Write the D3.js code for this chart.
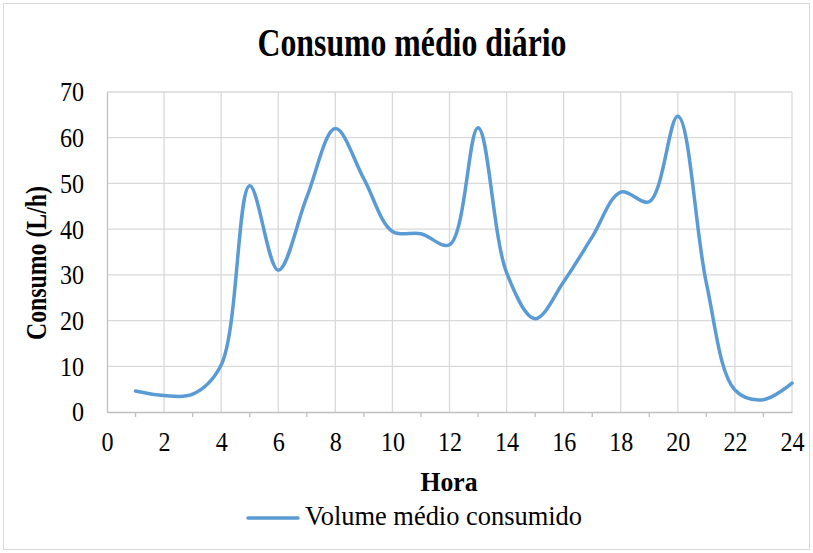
<!DOCTYPE html>
<html>
<head>
<meta charset="utf-8">
<script src="https://cdn.jsdelivr.net/npm/d3@7"></script>
<style>
  body { margin: 0; background: #fff; }
  text { font-family: "Liberation Serif", "Times New Roman", serif; fill: #000; }
</style>
</head>
<body>
<div id="chart"></div>
<script>
let hours = [1,2,3,4,5,6,7,8,9,10,11,12,13,14,15,16,17,18,19,20,21,22,23,24];
let consumo = [4.6,3.6,3.9,10.3,49.5,31,47,62,51,39.5,39,36.6,62.2,30.5,20.4,28.5,38.3,48.1,46,64.7,28.2,4.8,2.7,6.3];
let xTicks = [0,2,4,6,8,10,12,14,16,18,20,22,24];
let yTicks = [0,10,20,30,40,50,60,70];

let width = 813, height = 553;
let plot = { left: 107, right: 792, top: 92, bottom: 412 };

let svg = d3.select("#chart")
    .append("svg")
    .attr("width", width)
    .attr("height", height);

svg.append("rect")
    .attr("x", 3.5).attr("y", 3.5)
    .attr("width", width - 7).attr("height", height - 7)
    .attr("fill", "#fff")
    .attr("stroke", "#d9d9d9");

// squeeze text along its baseline, the original font runs narrow
function squeeze(sel, k) {
  sel.each(function() {
    let len = this.getComputedTextLength();
    d3.select(this)
      .attr("textLength", len * k)
      .attr("lengthAdjust", "spacingAndGlyphs");
  });
}

let x = d3.scaleLinear().domain([0, 24]).range([plot.left, plot.right]);
let y = d3.scaleLinear().domain([0, 70]).range([plot.bottom, plot.top]);

// gridlines
svg.append("g").selectAll("line").data(yTicks.filter(d => d > 0))
    .enter().append("line")
    .attr("x1", plot.left).attr("x2", plot.right)
    .attr("y1", d => y(d)).attr("y2", d => y(d))
    .attr("stroke", "#d9d9d9").attr("stroke-width", 1.3);

svg.append("g").selectAll("line").data(xTicks.filter(d => d > 0))
    .enter().append("line")
    .attr("x1", d => x(d)).attr("x2", d => x(d))
    .attr("y1", plot.top).attr("y2", plot.bottom)
    .attr("stroke", "#d9d9d9").attr("stroke-width", 1.3);

// axes
let xAxis = svg.append("g")
    .attr("transform", `translate(0,${plot.bottom})`)
    .call(d3.axisBottom(x).tickValues(xTicks).tickSize(0).tickPadding(22));
xAxis.select(".domain").attr("stroke", "#bfbfbf").attr("stroke-width", 1.3);
xAxis.selectAll("text").style("font-size", "28px").attr("fill", "#000")
    .attr("dy", "0.6em").call(squeeze, 0.86);

svg.append("g").selectAll("line").data(d3.range(1, 24, 2))
    .enter().append("line")
    .attr("x1", d => x(d)).attr("x2", d => x(d))
    .attr("y1", plot.bottom).attr("y2", plot.bottom + 5)
    .attr("stroke", "#bfbfbf").attr("stroke-width", 1.3);

let yAxis = svg.append("g")
    .attr("transform", `translate(${plot.left},0)`)
    .call(d3.axisLeft(y).tickValues(yTicks).tickSize(0).tickPadding(23));
yAxis.select(".domain").attr("stroke", "#bfbfbf").attr("stroke-width", 1.3);
yAxis.selectAll("text").style("font-size", "28px").attr("fill", "#000")
    .call(squeeze, 0.86);

// line
let line = d3.line()
    .x((d, i) => x(hours[i]))
    .y(d => y(d))
    .curve(d3.curveCatmullRom.alpha(0.5));

svg.append("path")
    .datum(consumo)
    .attr("d", line)
    .attr("fill", "none")
    .attr("stroke", "#5b9bd5")
    .attr("stroke-width", 3.5)
    .attr("stroke-linecap", "round");

// titles
svg.append("text")
    .attr("x", 412).attr("y", 56)
    .attr("text-anchor", "middle")
    .style("font-size", "39px").style("font-weight", 700)
    .text("Consumo médio diário")
    .attr("textLength", 309).attr("lengthAdjust", "spacingAndGlyphs");

svg.append("text")
    .attr("x", 449).attr("y", 491)
    .attr("text-anchor", "middle")
    .style("font-size", "28px").style("font-weight", 700)
    .text("Hora")
    .attr("textLength", 57).attr("lengthAdjust", "spacingAndGlyphs");

svg.append("text")
    .attr("transform", "translate(46,263) rotate(-90)")
    .attr("text-anchor", "middle")
    .style("font-size", "30px").style("font-weight", 700)
    .text("Consumo (L/h)")
    .attr("textLength", 154).attr("lengthAdjust", "spacingAndGlyphs");

// legend
svg.append("line")
    .attr("x1", 248).attr("x2", 298)
    .attr("y1", 518).attr("y2", 518)
    .attr("stroke", "#5b9bd5").attr("stroke-width", 3.5)
    .attr("stroke-linecap", "round");

svg.append("text")
    .attr("x", 305).attr("y", 525)
    .style("font-size", "28px")
    .text("Volume médio consumido")
    .attr("textLength", 277).attr("lengthAdjust", "spacingAndGlyphs");
</script>
</body>
</html>
